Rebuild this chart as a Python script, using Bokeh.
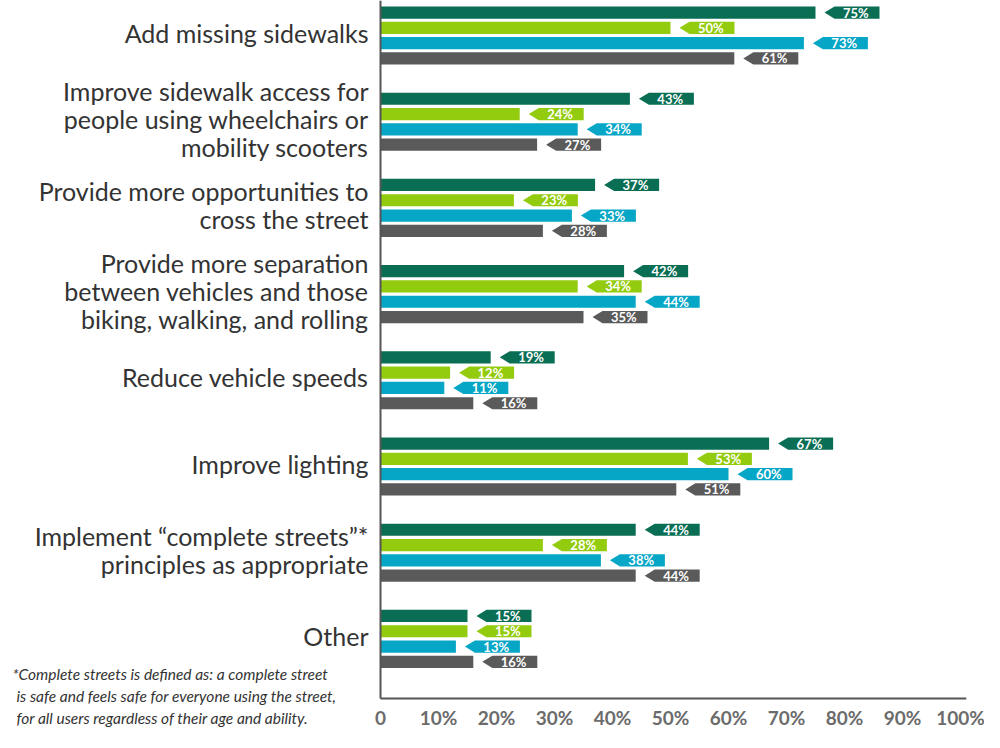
from bokeh.plotting import figure
from bokeh.models import Range1d
from bokeh.core.properties import value
from bokeh.embed import file_html
from bokeh.resources import INLINE

categories = [
    "Add missing sidewalks",
    "Improve sidewalk access for\npeople using wheelchairs or\nmobility scooters",
    "Provide more opportunities to\ncross the street",
    "Provide more separation\nbetween vehicles and those\nbiking, walking, and rolling",
    "Reduce vehicle speeds",
    "Improve lighting",
    "Implement \u201ccomplete streets\u201d*\nprinciples as appropriate",
    "Other",
]
series_1 = [75, 43, 37, 42, 19, 67, 44, 15]
series_2 = [50, 24, 23, 34, 12, 53, 28, 15]
series_3 = [73, 34, 33, 44, 11, 60, 38, 13]
series_4 = [61, 27, 28, 35, 16, 51, 44, 16]
series = [series_1, series_2, series_3, series_4]
colors = ["#0a6e55", "#93cb0e", "#06a6c6", "#5a5a5a"]
x_ticks = [0, 10, 20, 30, 40, 50, 60, 70, 80, 90, 100]
x_tick_labels = ["0"] + [f"{t}%" for t in x_ticks[1:]]
footnote = [
    "*Complete streets is defined as: a complete street",
    "is safe and feels safe for everyone using the street,",
    "for all users regardless of their age and ability.",
]

FONT = "Lato"
n = len(categories)
centers = [n - 1 - i for i in range(n)]

W, H = 984, 732
px_per_x = 5.8
px_per_y = 86.2
x0_px = 380
x_min = -x0_px / px_per_x
x_max = (W - x0_px) / px_per_x
y_top = n - 1 + 35 / px_per_y
y_bot = y_top - H / px_per_y


def to_x(px):
    return (px - x0_px) / px_per_x


def to_y(px):
    return y_top - px / px_per_y


p = figure(width=W, height=H, output_backend="svg", toolbar_location=None,
           x_range=Range1d(x_min, x_max), y_range=Range1d(y_bot, y_top),
           min_border=0)
p.outline_line_color = None
p.axis.visible = False
p.grid.visible = False

pitch = 15.3 / px_per_y
bar_h = 12.2 / px_per_y
gap = 9 / px_per_x
tip = 10 / px_per_x
body = 45 / px_per_x

for k, (vals, col) in enumerate(zip(series, colors)):
    off = (1.5 - k) * pitch
    ys = [c + off for c in centers]
    p.hbar(y=ys, right=vals, left=0, height=bar_h, fill_color=col, line_color=None)
    xs_list, ys_list, tx, ty, tt = [], [], [], [], []
    for v, y in zip(vals, ys):
        a = v + gap
        b = a + tip
        e = b + body
        h = bar_h / 2
        xs_list.append([a, b, e, e, b])
        ys_list.append([y, y + h, y + h, y - h, y - h])
        tx.append(b + body / 2 - 0.2)
        ty.append(y)
        tt.append(f"{v}%")
    p.patches(xs=xs_list, ys=ys_list, fill_color=col, line_color=None)
    p.text(x=tx, y=ty, text=tt, text_color="white", text_font=value(FONT),
           text_font_size="13px", text_font_style="bold", text_align="center",
           text_baseline="middle")

# axis lines
axis_y = to_y(698)
p.line(x=[0, 0], y=[axis_y, y_top], line_color="#555555", line_width=2)
p.line(x=[0, 101], y=[axis_y, axis_y], line_color="#555555", line_width=2)

# x tick labels
tick_y = to_y(717)
p.text(x=x_ticks, y=[tick_y] * len(x_ticks), text=x_tick_labels,
       text_font=value(FONT), text_font_size="19px", text_font_style="bold",
       text_color="#6b6b6b", text_align="center", text_baseline="middle")

# category labels
lift = 3 / px_per_y
p.text(x=[to_x(368)] * n, y=[c + lift for c in centers], text=categories,
       text_font=value(FONT), text_font_size="25px", text_color="#333333",
       text_align="right", text_baseline="middle", text_line_height=0.93)

# footnote
p.text(x=[to_x(12), to_x(16), to_x(16)], y=[to_y(673), to_y(695), to_y(717)],
       text=footnote, text_font=value(FONT), text_font_size="15.5px",
       text_font_style="italic", text_color="#333333", text_align="left",
       text_baseline="middle")

open("out.html", "w").write(file_html(p, INLINE))
